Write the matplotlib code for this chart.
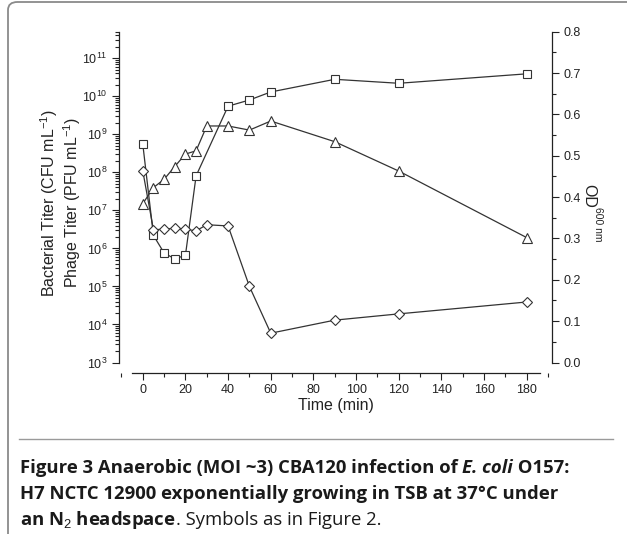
import numpy as np
import matplotlib
matplotlib.use("Agg")
import matplotlib.pyplot as plt
from matplotlib.ticker import LogLocator, MultipleLocator, FormatStrFormatter, NullFormatter
from matplotlib.patches import FancyBboxPatch
from matplotlib.lines import Line2D

plt.rcParams['font.family'] = ['Liberation Sans', 'DejaVu Sans']
plt.rcParams['mathtext.fontset'] = 'custom'
plt.rcParams['mathtext.rm'] = 'Liberation Sans'
plt.rcParams['mathtext.it'] = 'Liberation Sans:italic'
plt.rcParams['mathtext.bf'] = 'Liberation Sans:bold'

# Phage titer (squares), PFU/mL
time_phage = [0, 5, 10, 15, 20, 25, 40, 50, 60, 90, 120, 180]
phage = [5.6e8, 2.2e6, 7.6e5, 5.3e5, 6.6e5, 8.1e7, 5.5e9, 8.0e9, 1.3e10,
         2.8e10, 2.2e10, 3.9e10]

# Bacterial titer (diamonds), CFU/mL
time_bact = [0, 5, 10, 15, 20, 25, 30, 40, 50, 60, 90, 120, 180]
bact = [1.1e8, 3.1e6, 3.2e6, 3.4e6, 3.2e6, 2.9e6, 4.2e6, 3.9e6, 1.0e5,
        5.9e3, 1.3e4, 1.9e4, 3.9e4]

# Optical density (triangles)
time_od = [0, 5, 10, 15, 20, 25, 30, 40, 50, 60, 90, 120, 180]
od600 = [0.384, 0.423, 0.443, 0.474, 0.504, 0.512, 0.572, 0.572, 0.562,
         0.584, 0.534, 0.463, 0.302]

W, H = 627, 534
fig = plt.figure(figsize=(W / 100, H / 100), dpi=100)

# frame around the figure panel
frame = FancyBboxPatch((8 / W, -10 / H), 700 / W, (H + 8) / H,
                       boxstyle="round,pad=0,rounding_size=0.015",
                       transform=fig.transFigure, fill=False,
                       edgecolor='#8a8a8a', linewidth=1.3)
fig.patches.append(frame)

ax = fig.add_axes([119.3 / W, 1 - 362.5 / H, (551.7 - 119.3) / W, (362.5 - 31.7) / H])
ax2 = ax.twinx()

line_kw = dict(color='#333333', linewidth=0.9, markerfacecolor='white',
               markeredgecolor='#333333', markeredgewidth=0.8)
ax.plot(time_phage, phage, marker='s', markersize=5.8, **line_kw)
ax.plot(time_bact, bact, marker='D', markersize=5, **line_kw)
ax2.plot(time_od, od600, marker='^', markersize=6.8, **line_kw)

ax.set_yscale('log')
ax.set_ylim(1e3, 5e11)
ax.yaxis.set_major_locator(LogLocator(base=10, numticks=20))
ax.yaxis.set_minor_locator(LogLocator(base=10, subs=np.arange(2, 10), numticks=20))
ax.yaxis.set_minor_formatter(NullFormatter())

ax2.set_ylim(0, 0.8)
ax2.yaxis.set_major_locator(MultipleLocator(0.1))
ax2.yaxis.set_minor_locator(MultipleLocator(0.05))
ax2.yaxis.set_major_formatter(FormatStrFormatter('%.1f'))

ax.set_xlim(-11, 191.7)
ax.xaxis.set_major_locator(MultipleLocator(20))
ax.xaxis.set_minor_locator(MultipleLocator(10))

for a in (ax, ax2):
    a.spines['top'].set_visible(False)
    a.patch.set_visible(False)
    for s in a.spines.values():
        s.set_color('#222222')
        s.set_linewidth(0.9)
ax.spines['right'].set_visible(False)
ax2.spines['left'].set_visible(False)
ax2.spines['bottom'].set_visible(False)
ax.spines['bottom'].set_position(('outward', 7.3))
ax.spines['bottom'].set_bounds(-5, 186)

tick_kw = dict(direction='out', colors='#222222', labelcolor='#222222', width=0.8)
ax.tick_params(axis='both', which='major', length=5, labelsize=9, **tick_kw)
ax.tick_params(axis='both', which='minor', length=3, **tick_kw)
ax2.tick_params(axis='y', which='major', length=5, labelsize=9, **tick_kw)
ax2.tick_params(axis='y', which='minor', length=3, **tick_kw)

ax.set_xlabel('Time (min)', fontsize=11.5, labelpad=1, color='#222222')
fig.text(60.5 / W, 1 - 203 / H,
         'Bacterial Titer (CFU mL$^{-1}$)\nPhage Titer (PFU mL$^{-1}$)',
         rotation=90, ha='center', va='center', multialignment='center',
         fontsize=11.5, color='#222222', linespacing=1.1)
fig.text(589 / W, 1 - 196 / H, 'OD', rotation=270, ha='center', va='center',
         fontsize=11.5, color='#222222')
fig.text(598 / W, 1 - 224 / H, '600 nm', rotation=270, ha='center', va='center',
         fontsize=7.5, color='#222222')

# separator line above the caption
fig.add_artist(Line2D([19 / W, 613 / W], [1 - 439 / H, 1 - 439 / H],
                      transform=fig.transFigure, color='#9a9a9a', linewidth=1.0))

# caption, drawn piece by piece so bold, italic and regular can share a line
renderer = fig.canvas.get_renderer()
cap_font = ['Open Sans', 'DejaVu Sans']
cap_size = 13.3


def caption_line(y_px, pieces):
    x = 20 / W
    for text, weight, style in pieces:
        t = fig.text(x, 1 - y_px / H, text, fontsize=cap_size, family=cap_font,
                     fontweight=weight, fontstyle=style, color='#1a1a1a',
                     ha='left', va='baseline')
        bb = t.get_window_extent(renderer)
        x += bb.width / fig.bbox.width


caption_line(473, [('Figure 3 Anaerobic (MOI ~3) CBA120 infection of ', 'bold', 'normal'),
                   ('E. coli', 'bold', 'italic'),
                   (' O157:', 'bold', 'normal')])
caption_line(499, [('H7 NCTC 12900 exponentially growing in TSB at 37°C under', 'bold', 'normal')])
caption_line(525, [('an N$_2$ headspace', 'bold', 'normal'),
                   ('. Symbols as in Figure 2.', 'normal', 'normal')])

fig.savefig('out.png', dpi=100)
